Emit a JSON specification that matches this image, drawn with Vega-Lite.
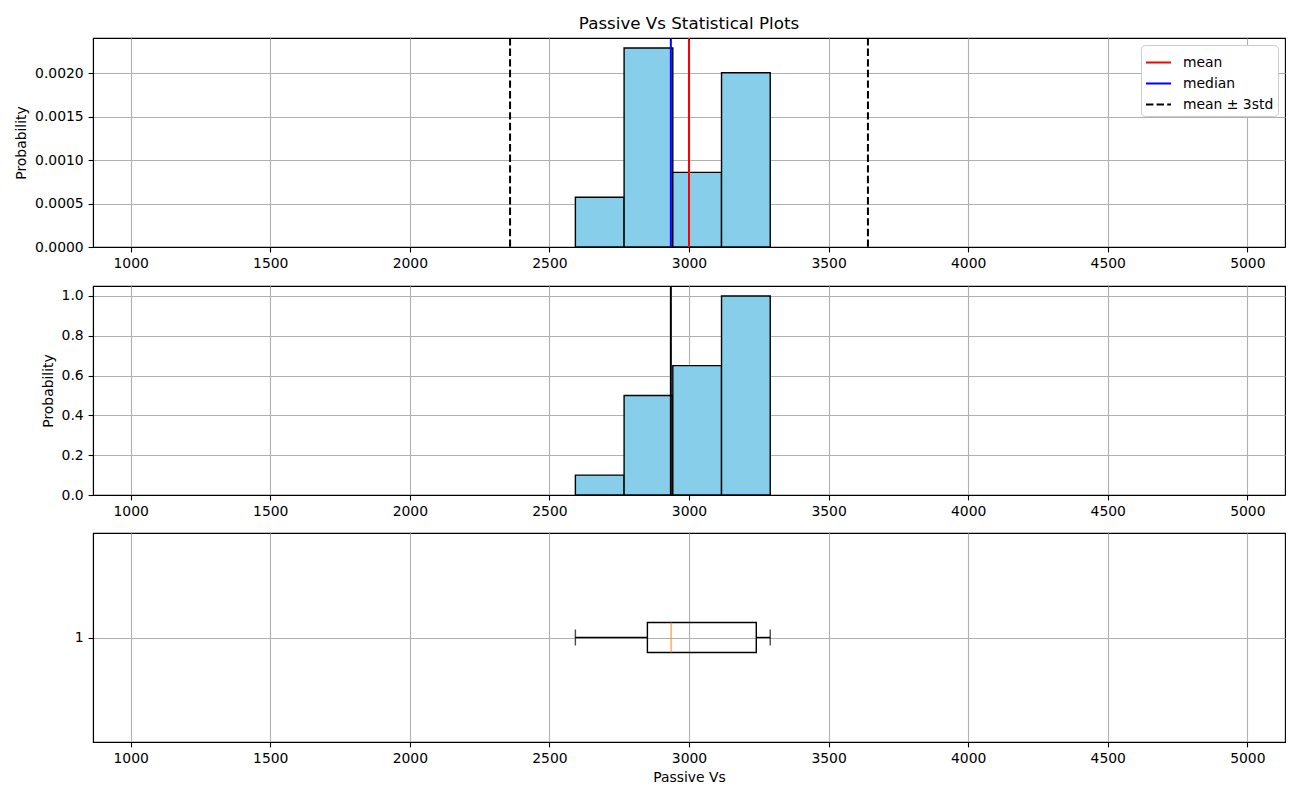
{
  "$schema": "https://vega.github.io/schema/vega-lite/v6.json",
  "background": "white",
  "padding": {"left": 14, "top": 15, "right": 10, "bottom": 5},
  "spacing": 12,
  "datasets": {
    "hist": [
      {"bin_start": 2593, "bin_end": 2767.5, "density": 0.000573, "cumulative": 0.1},
      {"bin_start": 2767.5, "bin_end": 2942, "density": 0.002292, "cumulative": 0.5},
      {"bin_start": 2942, "bin_end": 3116.5, "density": 0.00086, "cumulative": 0.65},
      {"bin_start": 3116.5, "bin_end": 3291, "density": 0.002006, "cumulative": 1.0}
    ],
    "stats": [
      {"value": 3000, "stat": "mean"},
      {"value": 2935, "stat": "median"},
      {"value": 2359, "stat": "mean ± 3std"},
      {"value": 3641, "stat": "mean ± 3std"}
    ],
    "box": [
      {"lo": 2593, "q1": 2851, "med": 2936, "q3": 3241, "hi": 3291, "pos": 1}
    ]
  },
  "config": {
    "font": "DejaVu Sans",
    "view": {"stroke": "black", "strokeWidth": 1.1},
    "axis": {
      "labelFont": "DejaVu Sans",
      "labelFontSize": 13.9,
      "labelColor": "black",
      "titleFont": "DejaVu Sans",
      "titleFontSize": 13.9,
      "titleFontWeight": "normal",
      "titleColor": "black",
      "domainColor": "black",
      "domainWidth": 1.1,
      "tickColor": "black",
      "tickWidth": 1.1,
      "tickSize": 4.9,
      "labelPadding": 4.9,
      "gridColor": "#b0b0b0",
      "gridWidth": 1.1,
      "zindex": 1
    },
    "title": {"font": "DejaVu Sans", "fontSize": 16.7, "fontWeight": "normal", "color": "black"},
    "legend": {"labelFont": "DejaVu Sans", "labelFontSize": 13.9, "labelColor": "black"}
  },
  "vconcat": [
    {
      "width": 1192,
      "height": 209,
      "title": {"text": "Passive Vs Statistical Plots", "offset": 4},
      "layer": [
        {
          "data": {"name": "hist"},
          "mark": {"type": "bar", "orient": "vertical", "fill": "#87CEEB", "stroke": "black", "strokeWidth": 1.4},
          "encoding": {
            "x": {"field": "bin_start", "type": "quantitative", "scale": {"domain": [865, 5135], "nice": false, "zero": false, "padding": 0},
                  "axis": {"title": null, "values": [1000, 1500, 2000, 2500, 3000, 3500, 4000, 4500, 5000], "format": "d"}},
            "x2": {"field": "bin_end"},
            "y": {"field": "density", "type": "quantitative", "scale": {"domain": [0, 0.002407], "nice": false},
                  "axis": {"title": "Probability", "values": [0, 0.0005, 0.001, 0.0015, 0.002], "format": ".4f", "titlePadding": 6}},
            "y2": {"datum": 0}
          }
        },
        {
          "data": {"name": "stats"},
          "mark": {"type": "rule", "strokeWidth": 2},
          "encoding": {
            "x": {"field": "value", "type": "quantitative"},
            "color": {"field": "stat", "type": "nominal",
                      "scale": {"domain": ["mean", "median", "mean ± 3std"], "range": ["#ff0000", "#0000ff", "#000000"]},
                      "legend": {"title": null, "orient": "top-right", "symbolType": "stroke", "symbolSize": 625, "symbolStrokeWidth": 2,
                                 "strokeColor": "#cccccc", "fillColor": "white", "cornerRadius": 4, "padding": 4, "offset": 7, "rowPadding": -4, "labelOffset": 11}},
            "strokeDash": {"field": "stat", "type": "nominal",
                           "scale": {"domain": ["mean", "median", "mean ± 3std"], "range": [[1, 0], [1, 0], [7.4, 3.2]]},
                           "legend": {"title": null, "orient": "top-right", "symbolType": "stroke", "symbolSize": 625, "symbolStrokeWidth": 2,
                                      "strokeColor": "#cccccc", "fillColor": "white", "cornerRadius": 4, "padding": 4, "offset": 7, "rowPadding": -4, "labelOffset": 11}}
          }
        }
      ]
    },
    {
      "width": 1192,
      "height": 209,
      "layer": [
        {
          "data": {"name": "hist"},
          "mark": {"type": "bar", "orient": "vertical", "fill": "#87CEEB", "stroke": "black", "strokeWidth": 1.4},
          "encoding": {
            "x": {"field": "bin_start", "type": "quantitative", "scale": {"domain": [865, 5135], "nice": false, "zero": false, "padding": 0},
                  "axis": {"title": null, "values": [1000, 1500, 2000, 2500, 3000, 3500, 4000, 4500, 5000], "format": "d"}},
            "x2": {"field": "bin_end"},
            "y": {"field": "cumulative", "type": "quantitative", "scale": {"domain": [0, 1.05], "nice": false},
                  "axis": {"title": "Probability", "values": [0, 0.2, 0.4, 0.6, 0.8, 1.0], "format": ".1f", "titlePadding": 6}},
            "y2": {"datum": 0}
          }
        },
        {
          "data": {"name": "stats"},
          "transform": [{"filter": "datum.stat == 'median'"}],
          "mark": {"type": "rule", "strokeWidth": 2, "color": "black"},
          "encoding": {
            "x": {"field": "value", "type": "quantitative"}
          }
        }
      ]
    },
    {
      "width": 1192,
      "height": 209,
      "data": {"name": "box"},
      "layer": [
        {
          "mark": {"type": "rule", "color": "black", "strokeWidth": 1.4},
          "encoding": {
            "x": {"field": "lo", "type": "quantitative", "scale": {"domain": [865, 5135], "nice": false, "zero": false},
                  "axis": {"title": "Passive Vs", "values": [1000, 1500, 2000, 2500, 3000, 3500, 4000, 4500, 5000], "format": "d", "titlePadding": 5}},
            "x2": {"field": "q1"},
            "y": {"field": "pos", "type": "quantitative", "scale": {"domain": [0.5, 1.5], "nice": false, "zero": false},
                  "axis": {"title": null, "values": [1], "format": "d"}}
          }
        },
        {
          "mark": {"type": "rule", "color": "black", "strokeWidth": 1.4},
          "encoding": {
            "x": {"field": "q3", "type": "quantitative"},
            "x2": {"field": "hi"},
            "y": {"field": "pos", "type": "quantitative"}
          }
        },
        {
          "mark": {"type": "bar", "orient": "horizontal", "fill": "transparent", "stroke": "black", "strokeWidth": 1.4, "size": 30},
          "encoding": {
            "x": {"field": "q1", "type": "quantitative"},
            "x2": {"field": "q3"},
            "y": {"field": "pos", "type": "quantitative"}
          }
        },
        {
          "mark": {"type": "tick", "orient": "vertical", "color": "black", "thickness": 1.4, "size": 16},
          "encoding": {
            "x": {"field": "lo", "type": "quantitative"},
            "y": {"field": "pos", "type": "quantitative"}
          }
        },
        {
          "mark": {"type": "tick", "orient": "vertical", "color": "black", "thickness": 1.4, "size": 16},
          "encoding": {
            "x": {"field": "hi", "type": "quantitative"},
            "y": {"field": "pos", "type": "quantitative"}
          }
        },
        {
          "mark": {"type": "tick", "orient": "vertical", "color": "#ff7f0e", "thickness": 1.4, "size": 30},
          "encoding": {
            "x": {"field": "med", "type": "quantitative"},
            "y": {"field": "pos", "type": "quantitative"}
          }
        }
      ]
    }
  ]
}
